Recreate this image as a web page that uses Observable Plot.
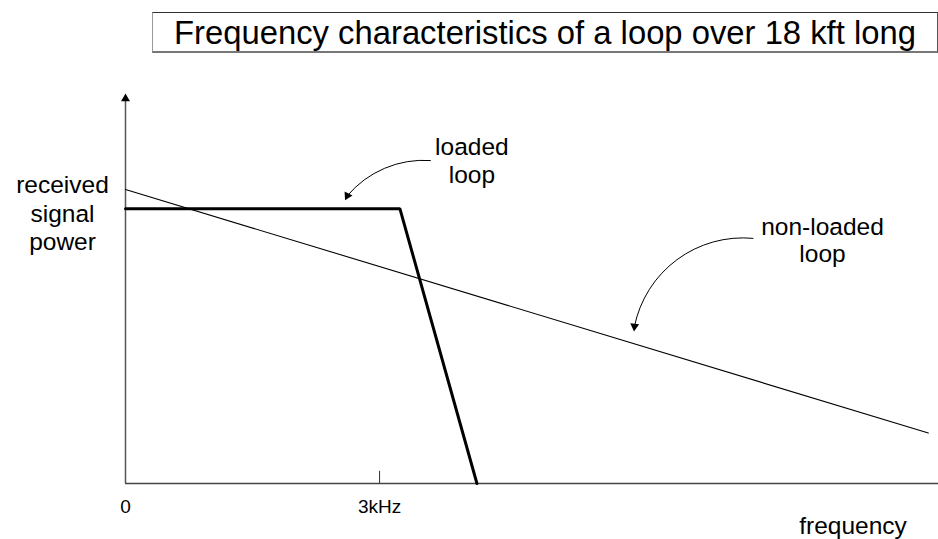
<!DOCTYPE html>
<html>
<head>
<meta charset="utf-8">
<script src="https://cdn.jsdelivr.net/npm/d3@7"></script>
<script src="https://cdn.jsdelivr.net/npm/@observablehq/plot@0.6"></script>
<style>
  html, body { margin: 0; padding: 0; background: #fff; }
  body { width: 938px; height: 539px; overflow: hidden; font-family: "Liberation Sans", Arial, sans-serif; }
  #title {
    margin: 12px 0 0 152px; width: 784px; height: 36px; padding-top: 2px;
    border-top: 1px solid #333; border-bottom: 2px solid #777;
    border-left: 1px solid #999; border-right: 1px solid #555;
    font-size: 32.8px; line-height: 36px; text-align: center; color: #000; white-space: nowrap;
  }
  #chart svg { display: block; }
</style>
</head>
<body>
<div id="title">Frequency characteristics of a loop over 18 kft long</div>
<div id="chart"></div>
<script>
// ---- data (frequency in kHz, received power in arbitrary units) ----
const loadedFreq = [0, 3.24, 4.15];
const loadedPower = [70.3, 70.3, 0];
const nonLoadedFreq = [0, 9.48];
const nonLoadedPower = [75.2, 12.9];

const tickValues = [0, 3];
const tickLabels = ["0", "3kHz"];
const tickMarks = [3];

const yAxisLabel = "received\nsignal\npower";
const xAxisLabel = "frequency";

const annotationText = ["loaded\nloop", "non-loaded\nloop"];
const annotationX = [4.09, 8.23];
const annotationY = [82.8, 62.4];

const arrowStartX = [3.60, 7.41];
const arrowStartY = [82.6, 62.7];
const arrowEndX = [2.62, 6.01];
const arrowEndY = [73.6, 40.2];
const arrowBend = [-27, -42];
const arrowHeadRotate = [207, 185];

const xMax = 9.6, yMax = 100;

// ---- tables built from arrays ----
const loaded = loadedFreq.map((f, i) => ({f, p: loadedPower[i]}));
const nonLoaded = nonLoadedFreq.map((f, i) => ({f, p: nonLoadedPower[i]}));
const ticks = tickValues.map((v, i) => ({v, label: tickLabels[i]}));
const notes = annotationText.map((t, i) => ({t, x: annotationX[i], y: annotationY[i]}));
const arrows = arrowStartX.map((x1, i) => ({x1, y1: arrowStartY[i], x2: arrowEndX[i], y2: arrowEndY[i], bend: arrowBend[i], rot: arrowHeadRotate[i]}));

const marks = [
  // axes
  Plot.ruleY([0], {x1: 0, x2: xMax, stroke: "#444", strokeWidth: 1.5}),
  Plot.ruleX([0], {y1: 0, y2: 98.4, stroke: "#555", strokeWidth: 1.5}),
  Plot.dot([{x: 0, y: 98.4}], {x: "x", y: "y", symbol: "triangle", r: 3.3, fill: "#000", stroke: "none"}),
  Plot.ruleX(tickMarks, {x: d => d, y1: 0, y2: 3.1, stroke: "#333", strokeWidth: 1}),
  Plot.text(ticks, {x: "v", y: () => -5.9, text: "label", fontSize: 19, fill: "#000"}),
  Plot.text([xAxisLabel], {x: () => 8.59, y: () => -10.8, text: d => d, fontSize: 24.5, fill: "#000"}),
  Plot.text([yAxisLabel], {x: () => -0.744, y: () => 69.3, text: d => d, fontSize: 24.5, lineHeight: 1.16, fill: "#000"}),
  // series
  Plot.line(nonLoaded, {x: "f", y: "p", stroke: "#000", strokeWidth: 1.1}),
  Plot.line(loaded, {x: "f", y: "p", stroke: "#000", strokeWidth: 3, strokeLinejoin: "miter"}),
  // annotations
  Plot.text(notes, {x: "x", y: "y", text: "t", fontSize: 24.5, lineHeight: 1.14, fill: "#000"}),
];
arrows.forEach(a => {
  marks.push(Plot.arrow([a], {x1: "x1", y1: "y1", x2: "x2", y2: "y2", bend: a.bend, headLength: 0, stroke: "#000", strokeWidth: 1}));
});
marks.push(Plot.dot(arrows, {x: "x2", y: "y2", symbol: "triangle", r: 3.3, rotate: "rot", fill: "#000", stroke: "none"}));

const chart = Plot.plot({
  width: 938,
  height: 487,
  marginLeft: 125,
  marginRight: 0,
  marginTop: 39,
  marginBottom: 57,
  x: {domain: [0, xMax], axis: null},
  y: {domain: [0, yMax], axis: null},
  style: {fontFamily: "'Liberation Sans', Arial, sans-serif", background: "#fff", overflow: "visible"},
  marks
});
document.getElementById("chart").appendChild(chart);
</script>
</body>
</html>
